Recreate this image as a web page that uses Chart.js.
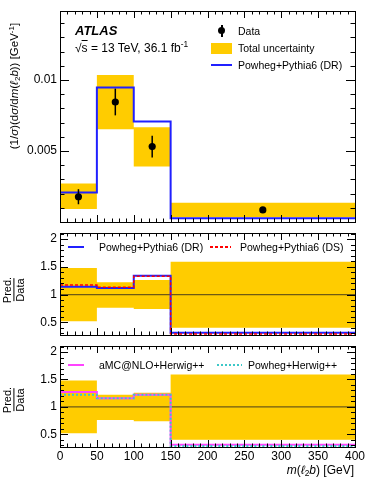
<!DOCTYPE html>
<html>
<head>
<meta charset="utf-8">
<script src="https://cdn.jsdelivr.net/npm/chart.js@4.4.1/dist/chart.umd.min.js"></script>
<style>
body{margin:0;background:#fff;font-family:'Liberation Sans',Arial,sans-serif;color:#000;}
#wrap{position:relative;width:374px;height:484px;overflow:hidden;}
canvas{position:absolute;left:0;}
.t{position:absolute;white-space:nowrap;line-height:1;transform:translateY(-50%);}
.rot{position:absolute;white-space:nowrap;line-height:1;transform:translate(-50%,-50%) rotate(-90deg);}
.frac{position:absolute;transform:translate(-50%,-50%) rotate(-90deg);display:flex;flex-direction:column;align-items:center;font-size:11px;line-height:1.1;}
.frac .den{border-top:1px solid #000;}
sub,sup{font-size:70%;line-height:0;}
sub{vertical-align:-0.25em;}
sup{vertical-align:0.55em;}
.sym{position:absolute;}
</style>
</head>
<body>
<div id="wrap">
<canvas id="top" width="374" height="228" style="top:0"></canvas>
<canvas id="mid" width="374" height="112" style="top:228px"></canvas>
<canvas id="bot" width="374" height="144" style="top:340px"></canvas>

<!-- top panel texts -->
<div class="t" style="left:75px;top:30px;font-size:13px;font-weight:bold;font-style:italic">ATLAS</div>
<div class="t" style="left:75px;top:48px;font-size:12px">√<span style="text-decoration:overline">s</span> = 13 TeV, 36.1 fb<sup>-1</sup></div>

<div class="sym" style="left:218px;top:27px;width:7px;height:7px;border-radius:50%;background:#000"></div>
<div class="sym" style="left:221px;top:25px;width:1.5px;height:12px;background:#000"></div>
<div class="t" style="left:238px;top:31px;font-size:10.5px">Data</div>
<div class="sym" style="left:211px;top:43px;width:21px;height:11px;background:#ffcc00"></div>
<div class="t" style="left:238px;top:48px;font-size:10.5px">Total uncertainty</div>
<div class="sym" style="left:211px;top:64px;width:21px;height:2px;background:#2020ff"></div>
<div class="t" style="left:238px;top:65px;font-size:10.5px">Powheg+Pythia6 (DR)</div>

<div class="rot" style="left:15px;top:86px;font-size:11.5px">(1/<i>σ</i>)(d<i>σ</i>/d<i>m</i>(<i>ℓ</i><sub>2</sub><i>b</i>)) [GeV<sup>-1</sup>]</div>

<!-- middle panel texts -->
<div class="sym" style="left:68px;top:246px;width:16px;height:2px;background:#2020ff"></div>
<div class="t" style="left:99px;top:247px;font-size:10.5px">Powheg+Pythia6 (DR)</div>
<div class="sym" style="left:210px;top:246px;width:21px;height:2px;background:repeating-linear-gradient(90deg,#ff0000 0 3px,transparent 3px 5px)"></div>
<div class="t" style="left:240px;top:247px;font-size:10.5px">Powheg+Pythia6 (DS)</div>
<div class="frac" style="left:14px;top:290px"><span>Pred.</span><span class="den">Data</span></div>

<!-- bottom panel texts -->
<div class="sym" style="left:68px;top:364px;width:16px;height:2px;background:#ff44ff"></div>
<div class="t" style="left:99px;top:365px;font-size:10.5px">aMC@NLO+Herwig++</div>
<div class="sym" style="left:217px;top:364px;width:25px;height:2px;background:repeating-linear-gradient(90deg,#3cc8c8 0 2px,transparent 2px 4px)"></div>
<div class="t" style="left:248px;top:365px;font-size:10.5px">Powheg+Herwig++</div>
<div class="frac" style="left:14px;top:400px"><span>Pred.</span><span class="den">Data</span></div>

<div class="t" style="right:20px;top:470px;font-size:12px"><i>m</i>(<i>ℓ</i><sub>2</sub><i>b</i>) [GeV]</div>
</div>

<script>
// bins and data
const binEdges = [0, 50, 100, 150, 400];
const dataCenters = [25, 75, 125, 275];
const dataValues = [0.00178, 0.00845, 0.00531, 0.00085];
const dataErrors = [0.00053, 0.00094, 0.00076, 0.0001];
const totUncLow = [0.00092, 0.00653, 0.0039, 0.00034];
const totUncHigh = [0.00272, 0.01035, 0.00667, 0.00136];
const powPy6DR = [0.00207, 0.00948, 0.00707, 0.00026];

// ratio panels
const ratioUncLow = [0.52, 0.76, 0.74, 0.40];
const ratioUncHigh = [1.48, 1.22, 1.26, 1.59];
const ratioPy6DR = [1.14, 1.12, 1.34, 0.31];
const ratioPy6DS = [1.17, 1.13, 1.33, 0.29];
const ratioAmcHw = [1.27, 1.16, 1.22, 0.31];
const ratioPowHw = [1.22, 1.16, 1.22, 0.29];

// ticks
const xTicks = [0, 50, 100, 150, 200, 250, 300, 350, 400];
const yTicksTop = [0.005, 0.01];
const yTicksRatio = [0.5, 1, 1.5, 2];

const YELLOW = '#ffcc00';

Chart.defaults.font.family = "'Liberation Sans', Arial, sans-serif";
Chart.defaults.color = '#000';

// histogram style points: value of each bin sits at its left edge, last one repeated
function steps(vals){
    return binEdges.map((x, i) => ({x: x, y: vals[Math.min(i, vals.length - 1)]}));
}

function band(lo, hi, firstIdx){
    return [
        {label: 'lo', data: steps(lo), borderWidth: 0, pointRadius: 0, stepped: true, fill: false, order: 10},
        {label: 'Total uncertainty', data: steps(hi), borderWidth: 0, pointRadius: 0, stepped: true,
         fill: firstIdx, backgroundColor: YELLOW, order: 10}
    ];
}

function histLine(label, vals, color, width, dash){
    return {label: label, data: steps(vals), borderColor: color, borderWidth: width, borderDash: dash || [],
            pointRadius: 0, stepped: true, fill: false, order: 1};
}

// frame + inward ticks on all four sides (ROOT style)
function frame(yMajor, yMinorStep, yMin, yMax, majLen){
    return {
        id: 'frame',
        afterDatasetsDraw(chart){
            const {ctx, chartArea: a, scales: {x, y}} = chart;
            ctx.save();
            ctx.strokeStyle = '#000';
            ctx.lineWidth = 1;
            ctx.beginPath();
            for (let v = 0; v <= 400; v += 10){
                const px = Math.round(x.getPixelForValue(v)) + 0.5;
                const len = v % 50 === 0 ? 7 : 3.5;
                ctx.moveTo(px, a.bottom); ctx.lineTo(px, a.bottom - len);
                ctx.moveTo(px, a.top); ctx.lineTo(px, a.top + len);
            }
            const n = Math.round((yMax - yMin) / yMinorStep) + 2;
            for (let k = 0; k < n; k++){
                const v = Math.ceil(yMin / yMinorStep) * yMinorStep + k * yMinorStep;
                if (v <= yMin || v >= yMax) continue;
                const major = yMajor.some(m => Math.abs(m - v) < yMinorStep / 10);
                const len = major ? majLen : majLen / 2;
                const py = Math.round(y.getPixelForValue(v)) + 0.5;
                ctx.moveTo(a.left, py); ctx.lineTo(a.left + len, py);
                ctx.moveTo(a.right, py); ctx.lineTo(a.right - len, py);
            }
            ctx.stroke();
            ctx.strokeRect(Math.round(a.left) + 0.5, Math.round(a.top) + 0.5,
                           Math.round(a.right - a.left), Math.round(a.bottom - a.top));
            ctx.restore();
        }
    };
}

const errorBars = {
    id: 'errorBars',
    afterDatasetsDraw(chart){
        const {ctx, scales: {x, y}} = chart;
        ctx.save();
        ctx.strokeStyle = '#000';
        ctx.lineWidth = 1.5;
        dataCenters.forEach((c, i) => {
            const px = x.getPixelForValue(c);
            ctx.beginPath();
            ctx.moveTo(px, y.getPixelForValue(dataValues[i] - dataErrors[i]));
            ctx.lineTo(px, y.getPixelForValue(dataValues[i] + dataErrors[i]));
            ctx.stroke();
        });
        ctx.restore();
    }
};

function panel(id, datasets, yMin, yMax, yTicks, padding, showX, plugins){
    return new Chart(document.getElementById(id), {
        type: 'line',
        data: {datasets: datasets},
        options: {
            responsive: false,
            animation: false,
            devicePixelRatio: 1,
            layout: {padding: padding},
            plugins: {legend: {display: false}, tooltip: {enabled: false}},
            scales: {
                x: {
                    type: 'linear', min: 0, max: 400, display: showX,
                    grid: {display: false, drawTicks: false}, border: {display: false},
                    ticks: {padding: 2, font: {size: 12}, color: '#000', maxRotation: 0, autoSkip: false},
                    afterBuildTicks: s => { s.ticks = xTicks.map(v => ({value: v})); },
                    afterFit: s => { s.height = showX ? 20 : 0; s.paddingLeft = 0; s.paddingRight = 0; }
                },
                y: {
                    type: 'linear', min: yMin, max: yMax,
                    grid: {display: false, drawTicks: false}, border: {display: false},
                    ticks: {padding: 3, font: {size: 12}, color: '#000', callback: v => String(v)},
                    afterBuildTicks: s => { s.ticks = yTicks.map(v => ({value: v})); },
                    afterFit: s => { s.width = 60; s.paddingTop = 0; s.paddingBottom = 0; }
                }
            }
        },
        plugins: plugins
    });
}

// top: normalised cross section
const topSets = band(totUncLow, totUncHigh, 0).concat([
    histLine('Powheg+Pythia6 (DR)', powPy6DR, '#2020ff', 2),
    {label: 'Data', data: dataCenters.map((c, i) => ({x: c, y: dataValues[i]})), showLine: false,
     pointRadius: 3.6, pointBackgroundColor: '#000', pointBorderWidth: 0, order: 0}
]);
panel('top', topSets, 0, 0.01486, yTicksTop, {top: 11, right: 19, bottom: 6, left: 0}, false,
      [frame(yTicksTop, 0.001, 0, 0.01486, 9), errorBars]);

// ratio line at 1
function unity(){
    return {label: 'unity', data: [{x: 0, y: 1}, {x: 400, y: 1}], borderColor: '#6e5a14',
            borderWidth: 1.2, pointRadius: 0, fill: false, order: 5};
}

const R_MIN = 0.27, R_MAX = 2.11;

const midSets = band(ratioUncLow, ratioUncHigh, 0).concat([
    unity(),
    histLine('Powheg+Pythia6 (DS)', ratioPy6DS, '#ff0000', 1.5, [3, 2]),
    histLine('Powheg+Pythia6 (DR)', ratioPy6DR, '#2020ff', 2)
]);
midSets[3].order = 0;
panel('mid', midSets, R_MIN, R_MAX, yTicksRatio, {top: 5, right: 19, bottom: 5, left: 0}, false,
      [frame(yTicksRatio, 0.1, R_MIN, R_MAX, 8)]);

const botSets = band(ratioUncLow, ratioUncHigh, 0).concat([
    unity(),
    histLine('aMC@NLO+Herwig++', ratioAmcHw, '#ff44ff', 2),
    histLine('Powheg+Herwig++', ratioPowHw, '#3cc8c8', 2, [2, 2])
]);
botSets[4].order = 0;
panel('bot', botSets, R_MIN, R_MAX, yTicksRatio, {top: 6, right: 19, bottom: 17, left: 0}, true,
      [frame(yTicksRatio, 0.1, R_MIN, R_MAX, 8)]);
</script>
</body>
</html>
